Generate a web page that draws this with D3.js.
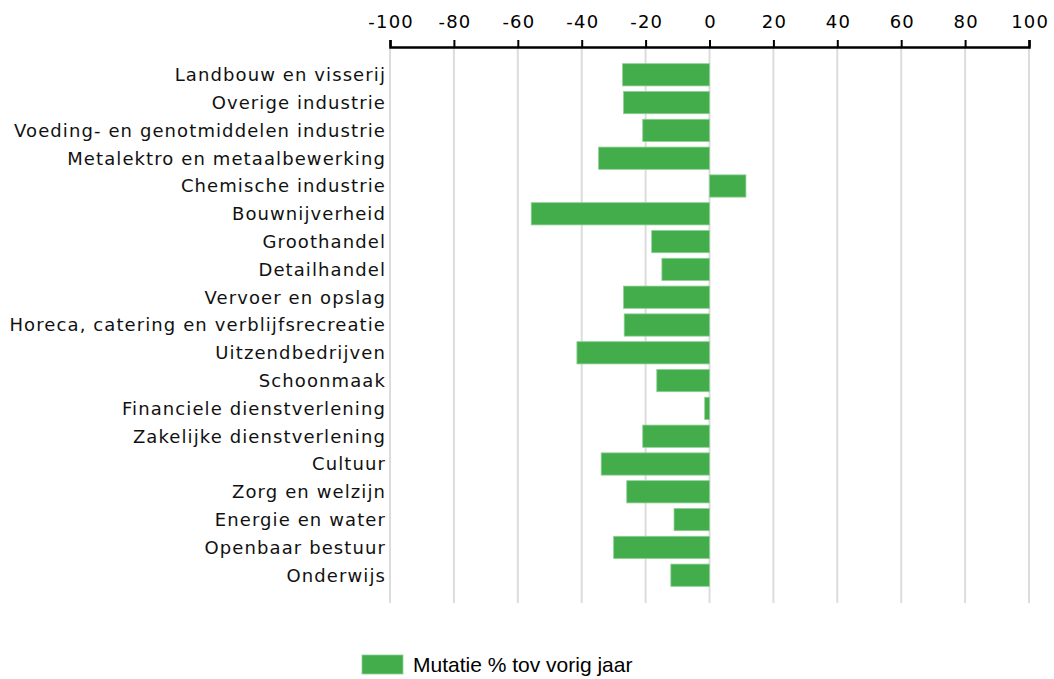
<!DOCTYPE html>
<html>
<head>
<meta charset="utf-8">
<script src="https://cdn.jsdelivr.net/npm/d3@7.9.0/dist/d3.min.js"></script>
<style>
  body { margin: 0; background: #fff; }
  svg { display: block; }
</style>
</head>
<body>
<svg id="chart" width="1054" height="679"></svg>
<script>
const categories = [
  'Landbouw en visserij', 'Overige industrie', 'Voeding- en genotmiddelen industrie',
  'Metalektro en metaalbewerking', 'Chemische industrie', 'Bouwnijverheid',
  'Groothandel', 'Detailhandel', 'Vervoer en opslag',
  'Horeca, catering en verblijfsrecreatie', 'Uitzendbedrijven', 'Schoonmaak',
  'Financiele dienstverlening', 'Zakelijke dienstverlening', 'Cultuur',
  'Zorg en welzijn', 'Energie en water', 'Openbaar bestuur', 'Onderwijs'
];
const mutatie = [
  -27.2, -26.9, -20.9, -34.7, 11.4, -55.8, -18.1, -14.9, -26.9,
  -26.7, -41.5, -16.5, -1.5, -20.9, -33.9, -25.9, -11.1, -30.0, -12.1
];
const ticks = [-100, -80, -60, -40, -20, 0, 20, 40, 60, 80, 100];
const seriesName = 'Mutatie % tov vorig jaar';

const svg = d3.select('#chart');
const plot = { left: 390, right: 1029, top: 47, bottom: 603 };

const x = d3.scaleLinear().domain([-100, 100]).range([plot.left, plot.right]);
const y = d3.scaleBand().domain(categories).range([plot.top, plot.bottom])
  .paddingInner(0.2).paddingOuter(0.6);

/*grid*/
svg.append('g').selectAll('line')
  .data(ticks)
  .join('line')
  .attr('x1', d => x(d)).attr('x2', d => x(d))
  .attr('y1', plot.top).attr('y2', plot.bottom)
  .attr('stroke', '#dcdcdc').attr('stroke-width', 2);

/*top axis, plain hyphen for negatives*/
const axis = svg.append('g')
  .attr('transform', `translate(0,${plot.top})`)
  .call(d3.axisTop(x).tickValues(ticks).tickSize(7).tickPadding(12)
    .tickFormat(d => String(d)));
axis.select('.domain').attr('stroke', '#000').attr('stroke-width', 2.5);
axis.selectAll('.tick line').attr('stroke', '#000').attr('stroke-width', 2);
axis.selectAll('.tick text')
  .attr('font-family', 'DejaVu Sans, Verdana, sans-serif')
  .attr('font-size', 18).attr('letter-spacing', 1.2)
  .attr('dx', 0.6).attr('fill', '#000');

/*bars*/
svg.append('g').selectAll('rect')
  .data(mutatie)
  .join('rect')
  .attr('x', d => x(Math.min(0, d)))
  .attr('y', (d, i) => y(categories[i]))
  .attr('width', d => Math.abs(x(d) - x(0)))
  .attr('height', y.bandwidth())
  .attr('fill', '#42ad4a')
  .attr('stroke', '#8fd095').attr('stroke-width', 0.8);

/*category labels*/
svg.append('g').selectAll('text')
  .data(categories)
  .join('text')
  .attr('x', plot.left - 4)
  .attr('y', d => y(d) + y.bandwidth() / 2)
  .attr('dy', '0.36em')
  .attr('text-anchor', 'end')
  .attr('font-family', 'DejaVu Sans, Verdana, sans-serif')
  .attr('font-size', 18)
  .attr('letter-spacing', 1.1)
  .attr('fill', '#111')
  .text(d => d);

/*legend*/
const legend = svg.append('g').attr('transform', 'translate(362,655)');
legend.append('rect')
  .attr('width', 41).attr('height', 19)
  .attr('fill', '#42ad4a').attr('stroke', '#8fd095').attr('stroke-width', 0.8);
legend.append('text')
  .attr('x', 51).attr('y', 10).attr('dy', '0.35em')
  .attr('font-family', 'Liberation Sans, Arial, sans-serif')
  .attr('font-size', 21).attr('fill', '#000')
  .text(seriesName);
</script>
</body>
</html>
